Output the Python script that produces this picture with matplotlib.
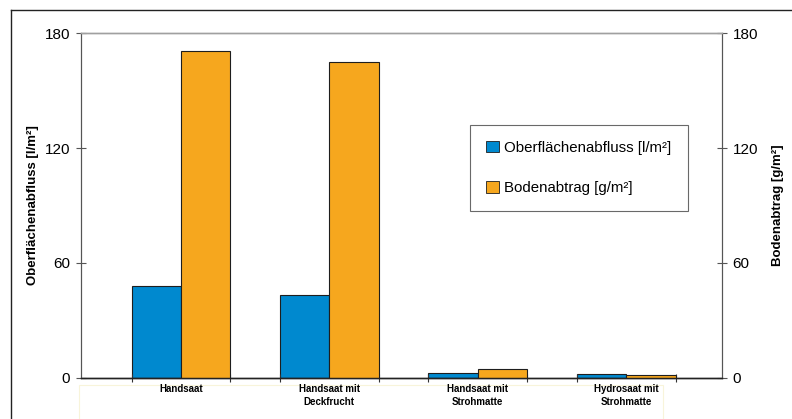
import numpy as np
import matplotlib
matplotlib.use("Agg")
import matplotlib.pyplot as plt
from matplotlib.lines import Line2D
from matplotlib.patches import Rectangle

plt.rcParams['font.family'] = ['Liberation Sans', 'DejaVu Sans']

# data
categories = ["Handsaat", "Handsaat mit\nDeckfrucht", "Handsaat mit\nStrohmatte", "Hydrosaat mit\nStrohmatte"]
abfluss = [47.8, 43.0, 2.3, 2.0]        # Oberflaechenabfluss [l/m2]
abtrag = [171.0, 165.0, 4.4, 1.3]       # Bodenabtrag [g/m2]
yticks = [0, 60, 120, 180]

blue = "#0089cf"
orange = "#f6a71e"
w = 0.333

fig = plt.figure(figsize=(7.92, 4.19), dpi=100)
ax = fig.add_axes([80.5/792, 1-377.5/419, (722-80.5)/792, (377.5-33.3)/419])
ax2 = ax.twinx()

x = np.arange(len(categories))
b1 = ax.bar(x - w/2, abfluss, w, color=blue, edgecolor="#1e1e1e", linewidth=0.8, label="Oberflächenabfluss [l/m²]")
b2 = ax2.bar(x + w/2, abtrag, w, color=orange, edgecolor="#1e1e1e", linewidth=0.8, label="Bodenabtrag [g/m²]")

for a in (ax, ax2):
    a.set_xlim(-0.677, 3.646)
    a.set_ylim(0, 180)
    a.set_yticks(yticks)

ax.set_xticks(x)
ax.set_xticklabels(categories, fontsize=7, fontweight="bold", linespacing=1.35)
ax.tick_params(axis="x", length=0, pad=5)
# small tick marks at the bar edges
edges = np.concatenate([x - w, x + w])
ax.set_xticks(edges, minor=True)
ax.tick_params(axis="x", which="minor", direction="inout", length=6, width=0.8, color="#333333")

ax.tick_params(axis="y", direction="inout", length=7, width=0.8, color="#555555", labelsize=11, pad=4)
ax2.tick_params(axis="y", direction="inout", length=7, width=0.8, color="#555555", labelsize=11, pad=4)

ax.set_ylabel("Oberflächenabfluss [l/m²]", fontsize=9.5, fontweight="bold", labelpad=4)
ax2.set_ylabel("Bodenabtrag [g/m²]", fontsize=9.5, fontweight="bold", labelpad=10)

for a in (ax, ax2):
    a.spines["top"].set_color("#a0a0a0")
    a.spines["top"].set_linewidth(1.0)
    a.spines["left"].set_color("#555555")
    a.spines["right"].set_color("#555555")
    a.spines["bottom"].set_color("#222222")
    a.spines["bottom"].set_linewidth(1.0)

leg = ax2.legend(handles=[b1, b2], loc="upper left",
                 bbox_to_anchor=(470/792, 1-125/419), bbox_transform=fig.transFigure,
                 fontsize=10.8, frameon=True, fancybox=False, edgecolor="#444444",
                 handlelength=0.85, handleheight=0.8, handletextpad=0.4,
                 labelspacing=1.75, borderpad=1.05, borderaxespad=0)
leg.get_frame().set_linewidth(0.8)
for h in leg.legend_handles:
    h.set_linewidth(0.6)

# faint box around category labels and outer frame
fig.add_artist(Rectangle((79/792, -0.05), (663-79)/792, 0.05 + (419-385)/419,
                         transform=fig.transFigure, fill=False, edgecolor="#f8f4da", linewidth=0.8,
                         zorder=-1))
fig.add_artist(Line2D([11/792, 11/792], [0, 1-10/419], transform=fig.transFigure, color="#222222", linewidth=1.0))
fig.add_artist(Line2D([11/792, 1], [1-10/419, 1-10/419], transform=fig.transFigure, color="#222222", linewidth=1.0))

fig.savefig("out.png", dpi=100)
